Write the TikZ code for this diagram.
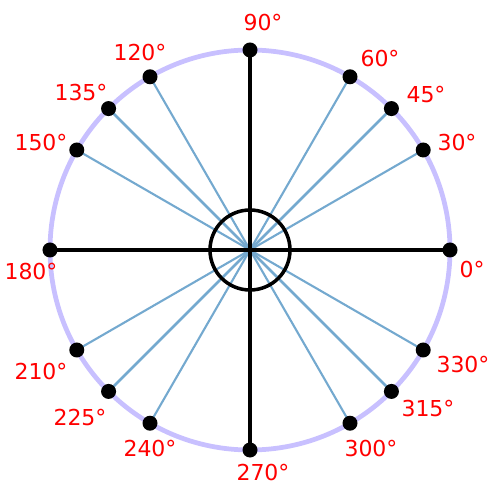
\documentclass[tikz,border=0pt]{standalone}
\usepackage{fontspec}
\setmainfont{DejaVu Sans}
\usepackage{xcolor}
\usepackage{tikz}
\usetikzlibrary{positioning}

\definecolor{rimcol}{RGB}{200,192,255}
\definecolor{raycol}{RGB}{116,169,207}

\begin{document}
\begin{tikzpicture}[
  rim/.style={draw=rimcol,line width=2.7pt},
  ray/.style={draw=raycol,line width=1.2pt},
  axis/.style={draw=black,line width=2pt},
  dot/.style={circle,fill=black,inner sep=0pt,minimum size=0.3cm},
  deg/.style={text=red,font=\fontsize{12.5}{13}\selectfont,inner sep=0pt}
]
  \useasboundingbox (-5,-5) rectangle (5,5);
  \coordinate (o) at (0,0);
  \draw[rim] (o) circle (4);

  % rays to the points off the axes
  \foreach \a in {30,60,120,150,210,240,300,330}
    \draw[ray] (o) -- (\a:4);
  \foreach \a in {45,135,225,315}
    \draw[ray,line width=1.6pt] (o) -- (\a:4);

  \draw[axis] (180:4) -- (0:4);
  \draw[axis] (270:4) -- (90:4);
  \node[circle,axis,minimum size=1.6cm,inner sep=0pt] (hub) at (o) {};

  \foreach \a in {0,30,45,60,90,120,135,150,180,210,225,240,270,300,315,330}
    \node[dot] (p\a) at (\a:4) {};

  % labels
  \foreach \a/\x/\y in {0/4.44/-0.40, 30/4.14/2.14, 45/3.52/3.10, 60/2.60/3.82,
      90/0.26/4.54, 120/-2.20/3.94, 135/-3.38/3.14, 150/-4.18/2.14,
      180/-4.38/-0.44, 210/-4.18/-2.44, 225/-3.40/-3.36, 240/-2.00/-3.98,
      270/0.26/-4.46, 300/2.42/-3.98, 315/3.56/-3.18, 330/4.26/-2.30}
    \node[deg] (l\a) at (\x,\y) {\a°};
\end{tikzpicture}
\end{document}
